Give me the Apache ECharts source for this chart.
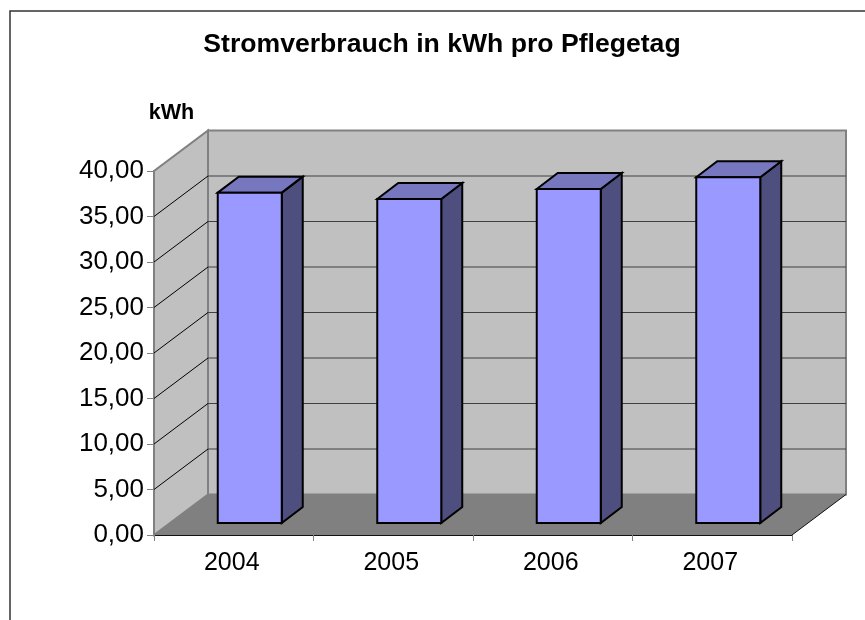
<!DOCTYPE html>
<html><head><meta charset="utf-8">
<style>html,body{margin:0;padding:0;background:#fff}#c{width:865px;height:620px}</style>
<script src="https://cdn.jsdelivr.net/npm/echarts@6/dist/echarts.min.js"></script>
</head><body><div id="c"></div>
<script>
const categories = ['2004', '2005', '2006', '2007'];
const values = [36.3, 35.6, 36.7, 38.0];
const yTicks = [0, 5, 10, 15, 20, 25, 30, 35, 40];
const titleText = 'Stromverbrauch in kWh pro Pflegetag';
const unitText = 'kWh';

// 3D look: wall depth and bar depth in pixels
const WALL = [54, -40.5], INSET = [16, -12], BAR = [21, -16], BAR_W = 64;
const font = 'Liberation Sans';
const chart = echarts.init(document.getElementById('c'), null, {renderer: 'canvas'});
const poly = (points, fill, stroke, lw) => ({type: 'polygon', shape: {points},
  style: {fill, stroke: stroke || 'none', lineWidth: lw || 0}});
const line = (a, b, stroke, lw) => ({type: 'line',
  shape: {x1: a[0], y1: a[1], x2: b[0], y2: b[1]}, style: {stroke, lineWidth: lw}});
const off = (p, d) => [p[0] + d[0], p[1] + d[1]];

function renderWalls(params, api) {
  const cs = params.coordSys;
  const x0 = cs.x, x1 = cs.x + cs.width, yB = cs.y + cs.height, yT = cs.y;
  const a = [x0, yB], b = [x1, yB], c = [x0, yT];
  return {type: 'group', children: [
    poly([off(a, WALL), off(b, WALL), off([x1, yT], WALL), off(c, WALL)], '#c0c0c0', '#808080', 2),
    poly([a, off(a, WALL), off(c, WALL), c], '#c0c0c0', '#808080', 2),
    poly([a, b, off(b, WALL), off(a, WALL)], '#808080'),
    line(b, off(b, WALL), '#111', 1)
  ]};
}
function renderGrid(params, api) {
  const cs = params.coordSys;
  const y = api.coord([0, api.value(0)])[1];
  if (api.value(0) === 0) return {type: 'group', children: []};
  const p = [cs.x, y], q = off(p, WALL);
  const isTop = api.value(0) === yTicks[yTicks.length - 1];
  const kids = [];
  if (!isTop) {
    kids.push(line(q, [cs.x + cs.width + WALL[0], q[1]], '#404040', 1));
    kids.push(line(p, q, '#000', 1));
  }
  return {type: 'group', children: kids};
}
function renderBar(params, api) {
  const pt = api.coord([api.value(0), api.value(1)]);
  const base = api.coord([api.value(0), 0]);
  const cx = base[0] + INSET[0];
  const L = cx - BAR_W / 2, R = cx + BAR_W / 2;
  const top = pt[1] + INSET[1], bot = base[1] + INSET[1];
  const s = '#000', lw = 2;
  return {type: 'group', children: [
    poly([[R, top], off([R, top], BAR), off([R, bot], BAR), [R, bot]], '#4f4f7f', s, lw),
    poly([[L, top], off([L, top], BAR), off([R, top], BAR), [R, top]], '#7777bf', s, lw),
    poly([[L, top], [R, top], [R, bot], [L, bot]], '#9999ff', s, lw)
  ]};
}

chart.setOption({
  animation: false,
  backgroundColor: '#fff',
  title: [
    {text: titleText, left: 437, top: 26, textAlign: 'center',
      textStyle: {fontFamily: font, fontSize: 26.6, fontWeight: 'bold', color: '#000'}},
    {text: unitText, left: 166.5, top: 97, textAlign: 'center',
      textStyle: {fontFamily: font, fontSize: 21.6, fontWeight: 'bold', color: '#000'}}
  ],
  graphic: [{type: 'rect', silent: true, z: -1,
    shape: {x: 10, y: 11, width: 900, height: 700},
    style: {fill: 'none', stroke: '#333', lineWidth: 1.5}}],
  grid: {left: 154, right: 73, top: 171, bottom: 85},
  xAxis: {type: 'category', data: categories, boundaryGap: true,
    axisLine: {show: true, lineStyle: {color: '#111', width: 2}},
    axisTick: {show: true, length: 6, lineStyle: {color: '#808080', width: 1}},
    axisLabel: {fontFamily: font, fontSize: 25, color: '#000', margin: 16, padding: [0, 4, 0, 0]},
    splitLine: {show: false}},
  yAxis: {type: 'value', min: 0, max: 40, interval: 5,
    axisLine: {show: true, lineStyle: {color: '#606060', width: 2}},
    axisTick: {show: true, length: 7, lineStyle: {color: '#808080', width: 1}},
    axisLabel: {fontFamily: font, fontSize: 26, color: '#000', margin: 10,
      formatter: v => v.toFixed(2).replace('.', ',')},
    splitLine: {show: false}},
  series: [
    {type: 'custom', z: 1, silent: true, data: [[0]], renderItem: renderWalls, clip: false},
    {type: 'custom', z: 2, silent: true, data: yTicks.map(v => [v]),
      encode: {y: 0}, renderItem: renderGrid, clip: false},
    {type: 'custom', z: 3, silent: true, data: categories.map((c, i) => [i, values[i]]),
      encode: {x: 0, y: 1}, renderItem: renderBar, clip: false}
  ]
});
</script></body></html>
